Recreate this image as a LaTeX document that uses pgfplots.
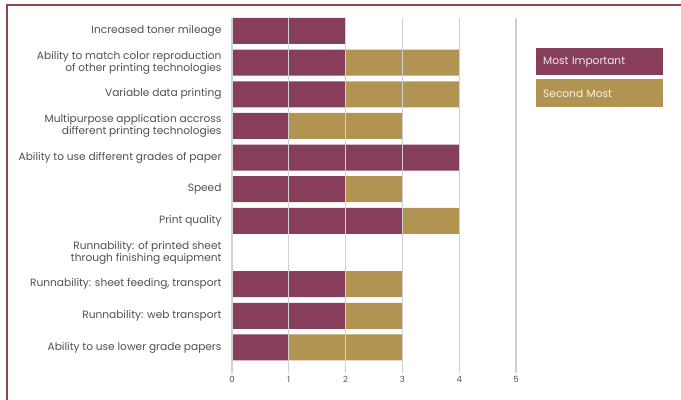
\documentclass[border=0pt]{standalone}
\usepackage{pgfplots}
\pgfplotsset{compat=1.18}
\usepackage{pgfplotstable}
\usepackage{fontspec}
\setmainfont{Poppins}
\definecolor{mi}{RGB}{135,62,90}
\definecolor{sm}{RGB}{178,148,82}
\definecolor{framec}{RGB}{140,72,68}
\definecolor{lbl}{RGB}{80,80,80}

\pgfplotstableread{
y MI SM
0 1 2
1 2 1
2 2 1
3 0 0
4 3 1
5 2 1
6 4 0
7 1 2
8 2 2
9 2 2
10 2 0
}\data

\begin{document}
\begin{tikzpicture}
\useasboundingbox (0,0) rectangle (681bp,400bp);
\draw[framec, line width=2bp] (6.5bp,0) -- (6.5bp,395bp) -- (681bp,395bp);
\begin{axis}[
  at={(232bp,27bp)}, anchor=south west, scale only axis,
  width=284bp, height=355bp,
  xbar stacked, bar width=26bp,
  xmin=0, xmax=5, ymin=-0.806, ymax=10.41,
  axis line style={draw=none},
  major tick length=0pt,
  xtick={0,1,2,3,4,5},
  xmajorgrids, grid style={black!18, line width=1.2bp},
  axis on top,
  /pgf/number format/assume math mode=true,
  xticklabel style={font=\fontsize{8.5bp}{9bp}\selectfont, text=lbl},
  ytick={0,...,10},
  yticklabels={
    {Ability to use lower grade papers},
    {Runnability: web transport},
    {Runnability: sheet feeding, transport},
    {Runnability: of printed sheet\\through finishing equipment},
    {Print quality},
    {Speed},
    {Ability to use different grades of paper},
    {Multipurpose application accross\\different printing technologies},
    {Variable data printing},
    {Ability to match color reproduction\\of other printing technologies},
    {Increased toner mileage}},
  yticklabel style={align=right, font=\fontsize{10.6bp}{10.8bp}\selectfont, text=lbl, xshift=-7bp},
]
\addplot[fill=mi, draw=none] table[x=MI, y=y] {\data};
\addplot[fill=sm, draw=none] table[x=SM, y=y] {\data};
\end{axis}
\node[fill=mi, anchor=north west, minimum height=27bp, text width=113bp, inner xsep=7bp, inner ysep=0pt, align=left, text=white!88!mi, font=\fontsize{10.6bp}{11bp}\selectfont] at (536bp,352bp) {Most Important};
\node[fill=sm, anchor=north west, minimum height=28bp, text width=113bp, inner xsep=7bp, inner ysep=0pt, align=left, text=white!88!sm, font=\fontsize{10.6bp}{11bp}\selectfont] at (536bp,321bp) {Second Most};
\end{tikzpicture}
\end{document}
